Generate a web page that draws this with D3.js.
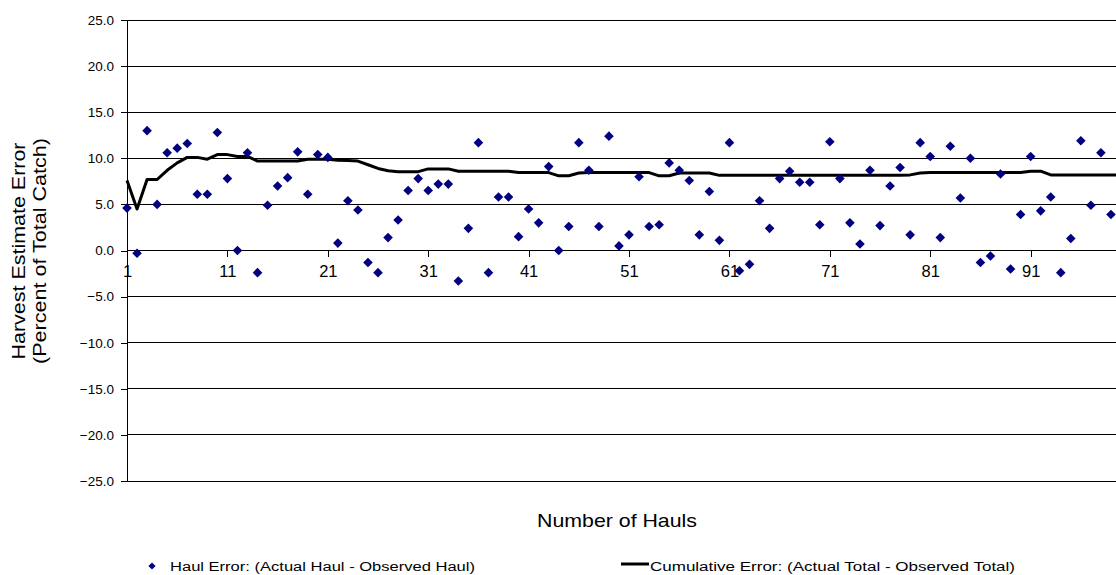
<!DOCTYPE html>
<html>
<head>
<meta charset="utf-8">
<script src="https://cdn.jsdelivr.net/npm/d3@7"></script>
<style>
  html, body { margin: 0; padding: 0; background: #fff; }
  svg { display: block; font-family: Arial, "Liberation Sans", sans-serif; }
</style>
</head>
<body>
<svg id="chart" width="1116" height="575"></svg>
<script>
// Haul numbers (haul 100 sits on the right edge of the plot)
const hauls = d3.range(1, 101);

// Per-haul error, percent of total catch (hauls 1-99)
const haulError = [
  4.6, -0.3, 13.0, 5.0, 10.6, 11.1, 11.6, 6.1, 6.1, 12.8,
  7.8, 0.0, 10.6, -2.4, 4.9, 7.0, 7.9, 10.7, 6.1, 10.4,
  10.1, 0.8, 5.4, 4.4, -1.3, -2.4, 1.4, 3.3, 6.5, 7.8,
  6.5, 7.2, 7.2, -3.3, 2.4, 11.7, -2.4, 5.8, 5.8, 1.5,
  4.5, 3.0, 9.1, 0.0, 2.6, 11.7, 8.7, 2.6, 12.4, 0.5,
  1.7, 8.0, 2.6, 2.8, 9.5, 8.7, 7.6, 1.7, 6.4, 1.1,
  11.7, -2.2, -1.5, 5.4, 2.4, 7.8, 8.6, 7.4, 7.4, 2.8,
  11.8, 7.8, 3.0, 0.7, 8.7, 2.7, 7.0, 9.0, 1.7, 11.7,
  10.2, 1.4, 11.3, 5.7, 10.0, -1.3, -0.6, 8.3, -2.0, 3.9,
  10.2, 4.3, 5.8, -2.4, 1.3, 11.9, 4.9, 10.6, 3.9
];

// Running (cumulative) error, percent of total catch (hauls 1-100)
const cumulativeError = [
  7.6, 4.5, 7.7, 7.7, 8.7, 9.5, 10.1, 10.1, 9.9, 10.4,
  10.4, 10.2, 10.2, 9.7, 9.7, 9.7, 9.7, 9.7, 9.9, 9.9,
  9.9, 9.8, 9.75, 9.7, 9.3, 8.9, 8.65, 8.55, 8.55, 8.55,
  8.85, 8.85, 8.85, 8.6, 8.6, 8.6, 8.6, 8.6, 8.6, 8.45,
  8.45, 8.45, 8.45, 8.1, 8.1, 8.4, 8.45, 8.45, 8.45, 8.45,
  8.45, 8.45, 8.45, 8.1, 8.1, 8.4, 8.4, 8.4, 8.4, 8.15,
  8.15, 8.15, 8.15, 8.15, 8.15, 8.15, 8.15, 8.15, 8.15, 8.15,
  8.15, 8.15, 8.15, 8.15, 8.15, 8.15, 8.15, 8.15, 8.2, 8.4,
  8.45, 8.45, 8.45, 8.45, 8.45, 8.45, 8.45, 8.45, 8.45, 8.45,
  8.6, 8.6, 8.2, 8.2, 8.2, 8.2, 8.2, 8.2, 8.2, 8.2
];

const yTickValues = [25, 20, 15, 10, 5, 0, -5, -10, -15, -20, -25];
const xTickHauls = [1, 11, 21, 31, 41, 51, 61, 71, 81, 91];

const yTitleLines = ["Harvest Estimate Error", "(Percent of Total Catch)"];
const xTitle = "Number of Hauls";
const legendLabels = [
  "Haul Error: (Actual Haul - Observed Haul)",
  "Cumulative Error: (Actual Total - Observed Total)"
];

const svg = d3.select("#chart");
const markerColor = "#000080";
const textColor = "#000";

const x = d3.scaleLinear().domain([1, 100]).range([127, 1121]);
const y = d3.scaleLinear().domain([-25, 25]).range([481, 20]);

// Excel-style diamond marker (square rotated 45 degrees)
const diamond = {
  draw(ctx, size) {
    const r = Math.sqrt(size / 2);
    ctx.moveTo(0, -r);
    ctx.lineTo(r, 0);
    ctx.lineTo(0, r);
    ctx.lineTo(-r, 0);
    ctx.closePath();
  }
};

// Horizontal gridlines
svg.append("g")
  .selectAll("line")
  .data(yTickValues)
  .join("line")
  .attr("x1", x(1)).attr("x2", x(100))
  .attr("y1", d => y(d)).attr("y2", d => y(d))
  .attr("stroke", "#000").attr("stroke-width", 1)
  .attr("shape-rendering", "crispEdges");

// Value axis on the left
const yAxis = svg.append("g")
  .attr("transform", `translate(${x(1)},0)`)
  .call(d3.axisLeft(y).tickValues(yTickValues).tickSize(6).tickPadding(7)
    .tickFormat(d3.format(".1f")));
yAxis.select(".domain").attr("stroke", "#000").attr("shape-rendering", "crispEdges");
yAxis.selectAll(".tick line").attr("stroke", "#000").attr("shape-rendering", "crispEdges");
yAxis.selectAll(".tick text")
  .attr("font-size", 13.5).attr("fill", textColor)
  .attr("font-family", "Arial, 'Liberation Sans', sans-serif");

// Category axis crossing at zero
const xAxis = svg.append("g")
  .attr("transform", `translate(0,${y(0)})`)
  .call(d3.axisBottom(x).tickValues(xTickHauls).tickSize(6).tickPadding(9)
    .tickFormat(d3.format("d")));
xAxis.select(".domain").remove();
xAxis.selectAll(".tick line").attr("stroke", "#000").attr("shape-rendering", "crispEdges");
xAxis.selectAll(".tick text")
  .attr("font-size", 16.5).attr("fill", textColor)
  .attr("font-family", "Arial, 'Liberation Sans', sans-serif");

// Cumulative error line
const line = d3.line()
  .x((d, i) => x(hauls[i]))
  .y(d => y(d));
svg.append("path")
  .datum(cumulativeError)
  .attr("d", line)
  .attr("fill", "none")
  .attr("stroke", "#000")
  .attr("stroke-width", 3)
  .attr("stroke-linejoin", "round");

// Per-haul error markers
const sym = d3.symbol().type(diamond).size(2 * 4.8 * 4.8);
svg.append("g")
  .selectAll("path")
  .data(haulError)
  .join("path")
  .attr("d", sym)
  .attr("transform", (d, i) => `translate(${x(hauls[i])},${y(d)})`)
  .attr("fill", markerColor);

// Axis titles
const yTitle = svg.append("text")
  .attr("transform", "translate(25,251) rotate(-90)")
  .attr("text-anchor", "middle")
  .attr("font-size", 18)
  .attr("fill", textColor);
yTitle.append("tspan").attr("x", 0).attr("y", 0)
  .attr("textLength", 217).attr("lengthAdjust", "spacingAndGlyphs")
  .text(yTitleLines[0]);
yTitle.append("tspan").attr("x", 0).attr("y", 21)
  .attr("textLength", 226).attr("lengthAdjust", "spacingAndGlyphs")
  .text(yTitleLines[1]);

svg.append("text")
  .attr("x", 617).attr("y", 527)
  .attr("text-anchor", "middle")
  .attr("font-size", 19)
  .attr("textLength", 160).attr("lengthAdjust", "spacingAndGlyphs")
  .attr("fill", textColor)
  .text(xTitle);

// Legend
const legend = svg.append("g");
legend.append("path")
  .attr("d", d3.symbol().type(diamond).size(2 * 3.6 * 3.6))
  .attr("transform", "translate(152,566)")
  .attr("fill", markerColor);
legend.append("text")
  .attr("x", 170).attr("y", 570.5)
  .attr("font-size", 12.5)
  .attr("textLength", 305).attr("lengthAdjust", "spacingAndGlyphs")
  .attr("fill", textColor)
  .text(legendLabels[0]);
legend.append("line")
  .attr("x1", 621).attr("x2", 649)
  .attr("y1", 564).attr("y2", 564)
  .attr("stroke", "#000").attr("stroke-width", 3);
legend.append("text")
  .attr("x", 650).attr("y", 570.5)
  .attr("font-size", 12.5)
  .attr("textLength", 365).attr("lengthAdjust", "spacingAndGlyphs")
  .attr("fill", textColor)
  .text(legendLabels[1]);
</script>
</body>
</html>
